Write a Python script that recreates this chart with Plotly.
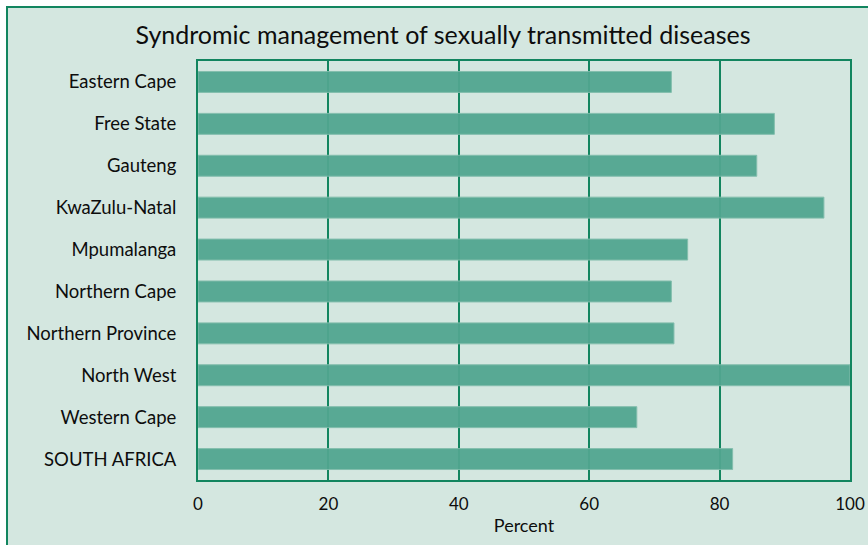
import plotly.graph_objects as go

# Share of clinics using syndromic management, by province
provinces = [
    "Eastern Cape", "Free State", "Gauteng", "KwaZulu-Natal", "Mpumalanga",
    "Northern Cape", "Northern Province", "North West", "Western Cape",
    "SOUTH AFRICA",
]
percent = [72.6, 88.4, 85.7, 96.0, 75.1, 72.6, 73.0, 100.0, 67.3, 82.0]
x_ticks = [0, 20, 40, 60, 80, 100]

W, H = 868, 545
ML, MR, MT, MB = 198, 18, 61, 65
PANEL = "#d4e7e0"
GREEN = "#12855f"
BAR = "#52a690"
FONT = "Lato"

fig = go.Figure(
    go.Bar(
        x=percent,
        y=provinces,
        orientation="h",
        width=0.5,
        marker=dict(color=BAR, line=dict(color="#7fbcab", width=1)),
        opacity=0.95,
    )
)

# light green panel with a dark green frame, running off the right/bottom edge
pw, ph = W - ML - MR, H - MT - MB
fig.add_shape(
    type="rect", xref="paper", yref="paper", layer="below",
    x0=(7 - ML) / pw, x1=(W + 10 - ML) / pw,
    y0=-(H + 10 - MT - ph) / ph, y1=1 + (MT - 7) / ph,
    fillcolor=PANEL, line=dict(color=GREEN, width=2),
)

fig.update_layout(
    width=W, height=H,
    margin=dict(l=ML, r=MR, t=MT, b=MB, autoexpand=False),
    paper_bgcolor="white",
    plot_bgcolor=PANEL,
    showlegend=False,
    font=dict(family=FONT, size=18, color="#0d0d0d"),
    title=dict(
        text="Syndromic management of sexually transmitted diseases",
        x=443 / W, xanchor="center", y=1 - 35 / H, yanchor="middle",
        font=dict(family=FONT, size=25, color="#0d0d0d"),
    ),
    xaxis=dict(
        range=[0, 100], tickvals=x_ticks, ticktext=[str(v) for v in x_ticks],
        showgrid=True, gridcolor=GREEN, gridwidth=1.5,
        showline=True, linecolor=GREEN, linewidth=2, mirror=True,
        zeroline=False, ticks="", layer="above traces", automargin=False,
        ticklabelstandoff=8,
        title=dict(text="Percent", standoff=6, font=dict(size=18)),
        tickfont=dict(size=17),
    ),
    yaxis=dict(
        range=[9.5, -0.5], autorange=False,
        showline=True, linecolor=GREEN, linewidth=2, mirror=True,
        showgrid=False, zeroline=False, ticks="", layer="above traces",
        automargin=False, ticklabelstandoff=16, tickfont=dict(size=18.5),
    ),
    bargap=0.5,
)

fig.write_html("out.html")
